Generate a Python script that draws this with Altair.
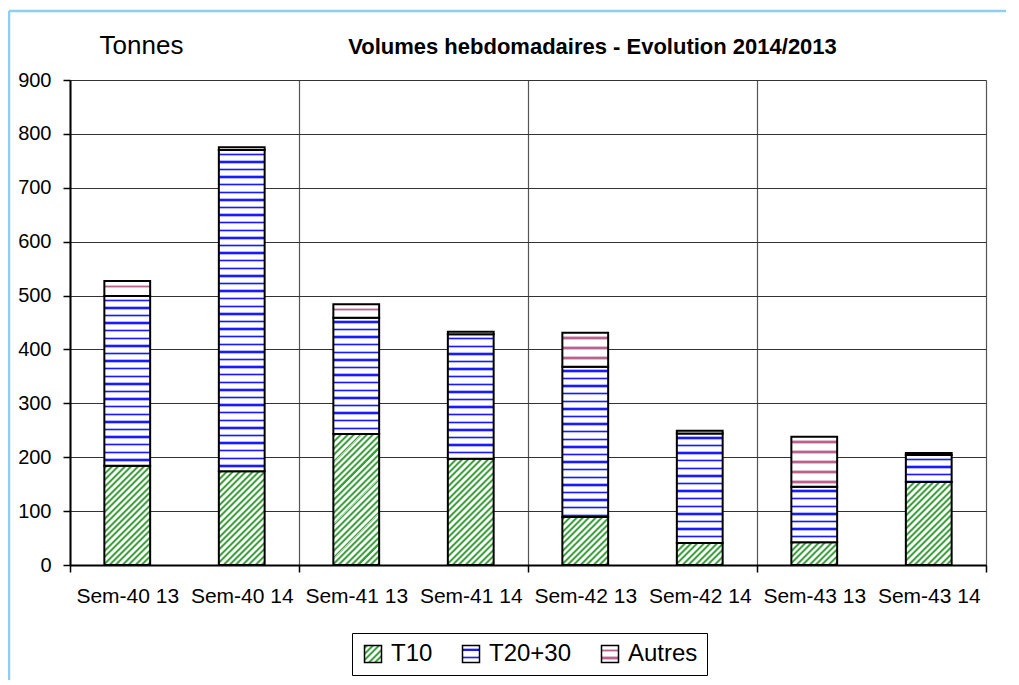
import json
import altair as alt

# ---- data ----
categories = ["Sem-40 13", "Sem-40 14", "Sem-41 13", "Sem-41 14",
              "Sem-42 13", "Sem-42 14", "Sem-43 13", "Sem-43 14"]
series = ["T10", "T20+30", "Autres"]
t10 = [184, 174, 243, 197, 89, 41, 42, 154]
t2030 = [315, 596, 216, 231, 279, 203, 103, 50]
autres = [28, 5, 25, 5, 63, 5, 93, 4]
chart_title = "Volumes hebdomadaires - Evolution 2014/2013"
y_title = "Tonnes"

# ---- layout ----
WIDTH = 916
HEIGHT = 485
YMAX = 900
PX = HEIGHT / YMAX
BAR_W = 0.4 * WIDTH / len(categories)
FONT = "Liberation Sans"
SWATCH = 17


def stripe_stops(length, period, bands, bg="#ffffff"):
    stops = [{"offset": 0, "color": bg}]
    if length > 0:
        k = 0
        while k * period < length:
            for a, b, col in bands:
                o1 = (k * period + a) / length
                if o1 >= 1:
                    break
                o2 = min((k * period + b) / length, 1)
                o1 = round(o1, 5)
                o2 = round(o2, 5)
                stops += [{"offset": o1, "color": bg}, {"offset": o1, "color": col},
                          {"offset": o2, "color": col}, {"offset": o2, "color": bg}]
            k += 1
    stops.append({"offset": 1, "color": bg})
    return stops


def horizontal_pattern(h, period, bands):
    return {"gradient": "linear", "x1": 0, "y1": 0, "x2": 0, "y2": 1,
            "stops": stripe_stops(h, period, bands)}


def diagonal_pattern(h, w, period, bands):
    h = max(h, 0.5)
    lam = (1 + h / w) / (1 + (h / w) ** 2)
    return {"gradient": "linear", "x1": 0, "y1": 0, "x2": lam, "y2": lam * h / w,
            "stops": stripe_stops(w + h, period, bands)}


GREEN_BANDS = [(0, 1.0, "#a8d8a8"), (1.0, 3.0, "#3f9f3f"), (3.0, 4.0, "#a8d8a8")]
BLUE_BANDS = [(2.6, 3.6, "#b4b4ff"), (3.6, 5.0, "#1a1aff"), (5.0, 6.0, "#b4b4ff")]
PINK_BANDS = [(3.5, 4.5, "#e3bccf"), (4.5, 6.0, "#b5648c"), (6.0, 7.0, "#e3bccf")]

records = []
for i, cat in enumerate(categories):
    vals = [t10[i], t2030[i], autres[i]]
    fills = [diagonal_pattern(vals[0] * PX, BAR_W, 6.4, GREEN_BANDS),
             horizontal_pattern(vals[1] * PX, 7.6, BLUE_BANDS),
             horizontal_pattern(vals[2] * PX, 10.0, PINK_BANDS)]
    for j, s in enumerate(series):
        records.append({"cat": cat, "serie": s, "value": vals[j], "ord": j, "pat": fills[j]})

data = alt.Data(values=records)

# patterned legend swatches (scale range entries given as expressions)
legend_range = [
    {"expr": json.dumps(diagonal_pattern(SWATCH, SWATCH, 6.4, GREEN_BANDS))},
    {"expr": json.dumps(horizontal_pattern(SWATCH, 7.6, BLUE_BANDS))},
    {"expr": json.dumps(horizontal_pattern(SWATCH, 7.0, PINK_BANDS))},
]

tick_test = "datum.extra || indexof(datum.value, ' 14') > 0"

x_axis = alt.Axis(
    labelAngle=0, labelFontSize=21, labelFont=FONT, labelColor="black",
    labelPadding=13, tickSize=7, tickColor="black", tickWidth=1.5,
    tickBand="extent", grid=True, gridColor="#555555", gridWidth=1.2,
    gridOpacity={"condition": {"test": tick_test, "value": 1}, "value": 0},
    tickOpacity={"condition": {"test": tick_test, "value": 1}, "value": 0},
    domainColor="black", domainWidth=2,
    # chart title, placed above the plot
    title=chart_title, titleAngle=0, titleAlign="center", titleBaseline="alphabetic",
    titleX=522, titleY=-(HEIGHT + 27), titleFontSize=22, titleFont=FONT,
    titleFontWeight="bold", titleColor="black",
)

y_axis = alt.Axis(
    values=list(range(0, 901, 100)), labelFontSize=20, labelFont=FONT, labelColor="black",
    labelPadding=12, tickSize=7, tickColor="black", tickWidth=1.5,
    grid=True, gridColor="#333333", gridWidth=1.2,
    domainColor="black", domainWidth=2,
    title=y_title, titleAngle=0, titleAlign="center", titleBaseline="alphabetic",
    titleX=71, titleY=-27, titleFontSize=26, titleFont=FONT, titleFontWeight="normal",
    titleColor="black",
)

bars = alt.Chart(data).transform_stack(
    stack="value", groupby=["cat"], as_=["y0", "y1"],
    sort=[alt.SortField("ord", order="ascending")],
).mark_bar(stroke="black", strokeWidth=2, width=alt.RelativeBandSize(0.4)).encode(
    x=alt.X("cat:N", sort=categories,
            scale=alt.Scale(paddingInner=0, paddingOuter=0), axis=x_axis),
    y=alt.Y("y1:Q", scale=alt.Scale(domain=[0, YMAX], nice=False), axis=y_axis),
    y2="y0:Q",
    fill=alt.Fill("pat:N", scale=None),
)

legend_layer = alt.Chart(data).mark_square(opacity=0, size=1).encode(
    x=alt.value(0), y=alt.value(0),
    color=alt.Color(
        "serie:N", sort=series,
        scale=alt.Scale(domain=series, range=legend_range),
        legend=alt.Legend(
            title=None, orient="none", legendX=282, legendY=553, direction="horizontal",
            columns=3, symbolType="square", symbolSize=SWATCH * SWATCH,
            symbolStrokeColor="black", symbolStrokeWidth=1.5, symbolOpacity=1,
            labelFontSize=24, labelFont=FONT, labelColor="black", labelOffset=6,
            columnPadding=26, padding=9, strokeColor="black",
        ),
    ),
)

frame_src = alt.Data(values=[{"k": 1}])
frame_left = alt.Chart(frame_src).mark_rule(color="#8ccfee", strokeWidth=2.5).encode(
    x=alt.value(-61), y=alt.value(-69), y2=alt.value(606))
frame_top = alt.Chart(frame_src).mark_rule(color="#8ccfee", strokeWidth=2.5).encode(
    x=alt.value(-61), x2=alt.value(940), y=alt.value(-69))

chart = alt.layer(bars, legend_layer, frame_left, frame_top).properties(
    width=WIDTH, height=HEIGHT,
    autosize=alt.AutoSizeParams(type="none"),
    padding={"left": 62, "top": 72, "right": 20, "bottom": 115},
).configure_view(stroke="black", strokeWidth=2).configure(background="white")

chart.save("out.html", embed_options={"renderer": "svg", "actions": False})
